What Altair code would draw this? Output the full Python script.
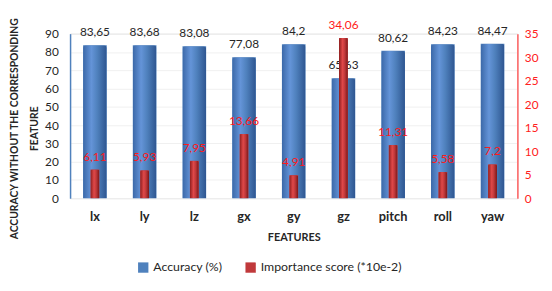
import altair as alt
import pandas as pd

features = ["lx", "ly", "lz", "gx", "gy", "gz", "pitch", "roll", "yaw"]
accuracy = [83.65, 83.68, 83.08, 77.08, 84.2, 65.63, 80.62, 84.23, 84.47]
importance = [6.11, 5.93, 7.95, 13.66, 4.91, 34.06, 11.31, 5.58, 7.2]
series_names = ["Accuracy (%)", "Importance score (*10e-2)"]

def fmt(v):
    return str(v).replace(".", ",")

df = pd.DataFrame({
    "feature": features,
    "acc": accuracy,
    "imp": importance,
    "acc_lbl": [fmt(v) for v in accuracy],
    "imp_lbl": [fmt(v) for v in importance],
    "s_acc": series_names[0],
    "s_imp": series_names[1],
})

FONT = "Lato"
x_enc = alt.X("feature:N", sort=features, title="FEATURES",
              scale=alt.Scale(paddingInner=0.5, paddingOuter=0.25),
              axis=alt.Axis(labelAngle=0, domain=False, ticks=False, labelPadding=13,
                            labelFontWeight="bold", labelFontSize=13, labelColor="#262626",
                            titleFontSize=11, titleFontWeight="bold", titlePadding=8,
                            titleColor="#262626", labelFont=FONT, titleFont=FONT))

color_scale = alt.Scale(domain=series_names, range=["#4F81BD", "#C0393B"])
legend = alt.Legend(title=None, orient="none", direction="horizontal", legendX=68, legendY=231,
                    symbolType="square", symbolSize=110, labelFontSize=12.5, labelFont=FONT,
                    labelColor="#262626", columnPadding=22, symbolStrokeWidth=0)

y_left = alt.Y("acc:Q", scale=alt.Scale(domain=[0, 90]),
               title=["ACCURACY WITHOUT THE CORRESPONDING", "FEATURE"],
               axis=alt.Axis(values=list(range(0, 91, 10)), domainColor="#4F81BD", domainWidth=1.5,
                             ticks=False, labelPadding=12, labelFontSize=12, labelFont=FONT,
                             labelColor="#262626", gridColor="#F0F0F0", titleFont=FONT,
                             titleFontSize=10.5, titleFontWeight="bold", titleColor="#262626",
                             titlePadding=5, titleLineHeight=20, titleY=96))

y_right = alt.Y("imp:Q", scale=alt.Scale(domain=[0, 35]), title=None,
                axis=alt.Axis(orient="right", values=list(range(0, 36, 5)), domainColor="#FF6060",
                              domainWidth=1.5, ticks=False, labelPadding=7, labelFontSize=12,
                              labelFont=FONT, labelColor="#FF2020", grid=False))

blue_grad = alt.LinearGradient(gradient="linear", x1=0, x2=1, y1=0, y2=0, stops=[
    alt.GradientStop(offset=0, color="#3B68A8"),
    alt.GradientStop(offset=0.35, color="#6494D8"),
    alt.GradientStop(offset=0.6, color="#4F81BD"),
    alt.GradientStop(offset=1, color="#2E5590")])
red_grad = alt.LinearGradient(gradient="linear", x1=0, x2=1, y1=0, y2=0, stops=[
    alt.GradientStop(offset=0, color="#8E1E1E"),
    alt.GradientStop(offset=0.4, color="#E04848"),
    alt.GradientStop(offset=0.65, color="#C0393B"),
    alt.GradientStop(offset=1, color="#7A1616")])

base = alt.Chart(df)

blue_bar = base.mark_bar(size=24).encode(
    x=x_enc, y=y_left,
    color=alt.Color("s_acc:N", scale=color_scale, legend=legend))
blue_ov = base.mark_bar(size=24, color=blue_grad, cornerRadiusTopLeft=3, cornerRadiusTopRight=3).encode(x=x_enc, y=y_left)
blue_txt = base.mark_text(dy=-13, fontSize=12, font=FONT, color="#262626").encode(
    x=x_enc, y=y_left, text="acc_lbl:N")
left = alt.layer(blue_bar, blue_ov, blue_txt)

red_bar = base.mark_bar(size=9).encode(
    x=x_enc, y=y_right,
    color=alt.Color("s_imp:N", scale=color_scale, legend=legend))
red_ov = base.mark_bar(size=9, color=red_grad, cornerRadiusTopLeft=2, cornerRadiusTopRight=2).encode(x=x_enc, y=y_right)
red_txt = base.mark_text(dy=-13, fontSize=12, font=FONT, color="#FF1A1A").encode(
    x=x_enc, y=y_right, text="imp_lbl:N")
right = alt.layer(red_bar, red_ov, red_txt)

chart = alt.layer(left, right).resolve_scale(y="independent").properties(
    width=454, height=167,
    autosize=alt.AutoSizeParams(type="none"),
    padding={"left": 63, "top": 24, "right": 27, "bottom": 84},
).configure_view(stroke=None).configure(background="white")

chart.save("out.html", embed_options={"renderer": "svg", "actions": False})
